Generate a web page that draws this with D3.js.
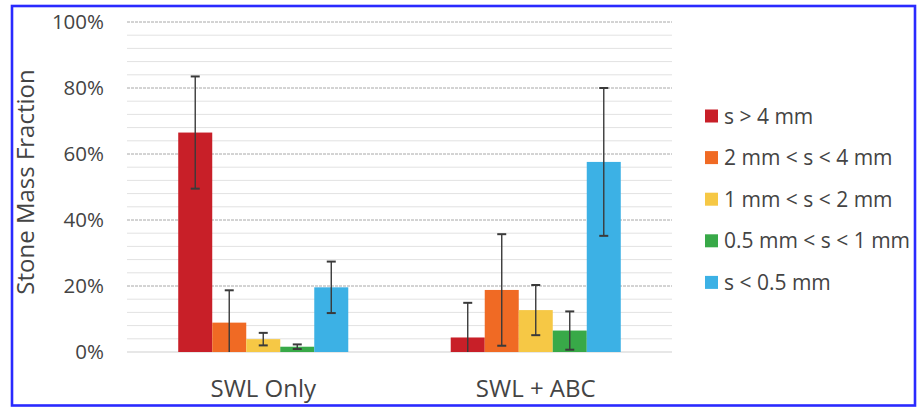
<!DOCTYPE html>
<html><head><meta charset="utf-8">
<script src="https://cdn.jsdelivr.net/npm/d3@7"></script>
<style>html,body{margin:0;padding:0;background:#fff;}svg{display:block;}</style>
</head><body>
<svg id="chart" width="924" height="409"></svg>
<script>
const groups = ["SWL Only", "SWL + ABC"];
const seriesNames = ["s > 4 mm", "2 mm < s < 4 mm", "1 mm < s < 2 mm", "0.5 mm < s < 1 mm", "s < 0.5 mm"];
const seriesColors = ["#c81f28", "#f06a24", "#f6c845", "#38a948", "#3cb1e5"];
const swlOnly = [66.5, 8.9, 3.9, 1.6, 19.6];
const swlOnlyErr = [17.0, 9.8, 1.9, 0.7, 7.8];
const swlAbc = [4.4, 18.8, 12.7, 6.5, 57.6];
const swlAbcErr = [10.5, 16.9, 7.6, 5.8, 22.4];
const yTicks = [0, 20, 40, 60, 80, 100];
const yMinorTicks = d3.range(0, 101, 4);

const values = [swlOnly, swlAbc];
const errs = [swlOnlyErr, swlAbcErr];

const svg = d3.select("#chart");
const font = "'Open Sans', sans-serif";
const textColor = "#444";

// frame
svg.append("rect").attr("x", 12).attr("y", 6).attr("width", 903).attr("height", 399.5)
  .attr("fill", "#fff").attr("stroke", "#2a2aff").attr("stroke-width", 2.6);

const x0 = d3.scaleBand().domain(groups).range([127, 672]).paddingInner(0.376).paddingOuter(0.188);
const x1 = d3.scaleBand().domain(seriesNames).range([0, x0.bandwidth()]).padding(0);
const y = d3.scaleLinear().domain([0, 100]).range([352, 22]);

const g = svg.append("g");
// minor gridlines
g.selectAll("line.minor").data(yMinorTicks.filter(t => t % 20 !== 0)).join("line")
  .attr("x1", 127).attr("x2", 672).attr("y1", d => y(d)).attr("y2", d => y(d))
  .attr("stroke", "#e2e2e2").attr("stroke-width", 1);
// major gridlines
g.selectAll("line.major").data(yTicks.filter(t => t > 0)).join("line")
  .attr("x1", 127).attr("x2", 672).attr("y1", d => y(d)).attr("y2", d => y(d))
  .attr("stroke", "#a8a8a8").attr("stroke-width", 1).attr("stroke-dasharray", "3,1");
g.append("line").attr("x1", 127).attr("x2", 672).attr("y1", y(0)).attr("y2", y(0))
  .attr("stroke", "#d0d0d0").attr("stroke-width", 1.2);

// y axis labels
const yAxis = d3.axisLeft(y).tickValues(yTicks).tickFormat(d => d + "%").tickSize(0).tickPadding(0);
const ya = svg.append("g").attr("transform", "translate(104,0)").call(yAxis);
ya.select(".domain").remove();
ya.selectAll("text").attr("font-family", font).attr("font-size", 20.5).attr("fill", textColor);

// x axis labels
const xAxis = d3.axisBottom(x0).tickSize(0).tickPadding(0);
const xa = svg.append("g").attr("transform", "translate(0,397)").call(xAxis);
xa.select(".domain").remove();
xa.selectAll("text").attr("font-family", font).attr("font-size", 24).attr("fill", textColor).attr("y", 0).attr("dy", 0);

// bars
const data = [];
groups.forEach((gname, gi) => seriesNames.forEach((s, si) => {
  data.push({g: gname, s, si, v: values[gi][si], e: errs[gi][si]});
}));
svg.append("g").selectAll("rect").data(data).join("rect")
  .attr("x", d => x0(d.g) + x1(d.s)).attr("width", x1.bandwidth())
  .attr("y", d => y(d.v)).attr("height", d => y(0) - y(d.v))
  .attr("fill", d => seriesColors[d.si]);

// error bars
const eb = svg.append("g").attr("stroke", "#3a3a3a").attr("stroke-width", 1.4);
data.forEach(d => {
  const cx = x0(d.g) + x1(d.s) + x1.bandwidth() / 2;
  const hi = d.v + d.e, lo = d.v - d.e;
  const loC = Math.max(0, lo);
  eb.append("line").attr("x1", cx).attr("x2", cx).attr("y1", y(hi)).attr("y2", y(loC));
  eb.append("line").attr("x1", cx - 4.5).attr("x2", cx + 4.5).attr("y1", y(hi)).attr("y2", y(hi)).attr("stroke-width", 2);
  if (lo >= 0) eb.append("line").attr("x1", cx - 4.5).attr("x2", cx + 4.5).attr("y1", y(lo)).attr("y2", y(lo)).attr("stroke-width", 2);
});

// y title
svg.append("text").attr("transform", "translate(34,182) rotate(-90)")
  .attr("text-anchor", "middle").attr("font-family", font).attr("font-size", 24)
  .attr("fill", textColor).text("Stone Mass Fraction");

// legend
const leg = svg.append("g").attr("transform", "translate(705,116)");
seriesNames.forEach((s, i) => {
  const row = leg.append("g").attr("transform", `translate(0,${i * 41.6})`);
  row.append("rect").attr("x", 0).attr("y", -6.5).attr("width", 13).attr("height", 13).attr("fill", seriesColors[i]);
  row.append("text").attr("x", 19).attr("y", 0).attr("dy", "0.36em").attr("font-family", font)
    .attr("font-size", 21).attr("fill", textColor).text(s);
});
</script>
</body></html>
